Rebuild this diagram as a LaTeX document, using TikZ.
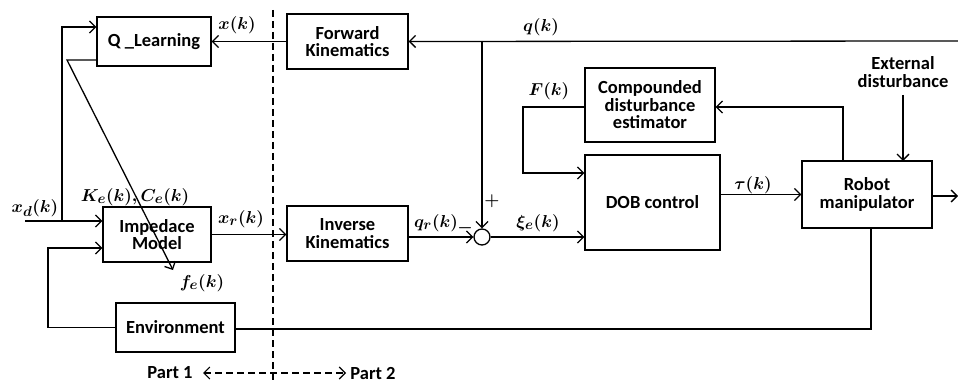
\documentclass[tikz,border=0pt]{standalone}
\usepackage{amsmath}
\usepackage{fontspec}
\setmainfont{Carlito}
\usetikzlibrary{arrows.meta,calc}
\begin{document}
\begin{tikzpicture}[x=1pt,y=-1pt,
  font=\fontsize{18.5}{17.5}\selectfont\bfseries\boldmath,
  line width=1.3pt,
  blk/.style={draw,rectangle,align=center,inner sep=0pt},
  lbl/.style={inner sep=0pt,font=\fontsize{19}{19}\selectfont\bfseries\boldmath},
  arr/.style={-{Straight Barb[length=6pt,width=12pt,line width=1.3pt]}},
  dsh/.style={dash pattern=on 7pt off 4pt, line width=1.1pt}]
\useasboundingbox (0,0) rectangle (958,382);
% blocks
\node[blk,minimum width=114pt,minimum height=49pt] (q) at (154,41.5) {Q \_Learning};
\node[blk,minimum width=121pt,minimum height=55pt] (fk) at (347.5,41.5) {Forward\\Kinematics};
\node[blk,minimum width=130pt,minimum height=74pt] (cde) at (650,105) {Compounded\\disturbance\\estimator};
\node[blk,minimum width=135pt,minimum height=95pt] (dob) at (652.5,202.5) {DOB control};
\node[blk,minimum width=130pt,minimum height=67pt] (rob) at (867,194.5) {Robot\\manipulator};
\node[blk,minimum width=119pt,minimum height=49pt] (env) at (175.5,327.5) {Environment};
\node[blk,minimum width=108pt,minimum height=55pt] (imp) at (157,234.5) {Impedace\\Model};
\node[blk,minimum width=121pt,minimum height=55pt] (ik) at (347.5,233.5) {Inverse\\Kinematics};
\node[draw,circle,minimum size=16pt,inner sep=0pt] (sum) at (482,237) {};
\node[inner sep=0pt,align=center] (ext) at (903,72) {External\\disturbance};
% coordinates
\coordinate (qin) at (958,41);
\coordinate (qj) at (482,41);
\coordinate (yout) at (958,196);
\coordinate (xdin) at (25,221);
\coordinate (xdj) at (62,221);
\coordinate (qlc) at (67,60);
\coordinate (fetip) at (173,270);
\coordinate (fl) at (523,107);
\coordinate (rj) at (843,107);
\coordinate (rb) at (871,329);
\coordinate (el) at (48,248);
% connectors
\draw[arr] (qin) -- (fk.east);
\draw[arr] (fk.west) -- (q.east |- fk.west);
\draw[arr] (qj) -- (sum.north);
\draw[arr] (ik.east |- sum.west) -- (sum.west);
\draw[arr] (imp.east) -- (imp.east -| ik.west);
\draw[arr] (sum.east) -- (sum.east -| dob.west);
\draw[arr] (dob.east |- rob.west) -- (rob.west);
\draw[arr] (rob.east |- yout) -- (yout);
\draw[arr] (903,95) -- (903,161);
\draw[arr] (rob.north -| rj) -- (rj) -- (rj -| cde.east);
\draw[arr] (fl -| cde.west) -- (fl) -- ++(0,66) -- ($(dob.west |- fl)+(0,66)$);
\draw (rob.south -| rb) -- (rb) -- (rb -| env.east);
\draw[arr] (env.west) -- (env.west -| el) -- (el) -- (el -| imp.west);
\draw[arr] (xdin) -- (xdin -| imp.west);
\draw[arr] (xdj) -- (62,27) -- (q.west |- 0,27);
\draw[arr] (qlc -| q.west) -- (qlc) -- (fetip);
% dashed separator
\draw[dsh] (273,10) -- (273,382);
\draw[dsh,{Straight Barb[length=6pt,width=12pt,line width=1.1pt]}-{Straight Barb[length=6pt,width=12pt,line width=1.1pt]}] (203,373) -- (346,373);
% labels
\node[lbl] (lx) at (237,25) {$x(k)$};
\node[lbl] (lq) at (541,27) {$q(k)$};
\node[lbl] (lF) at (549,91) {$F(k)$};
\node[lbl] (lt) at (753,185) {$\tau(k)$};
\node[lbl] (lkc) at (135,197) {$K_e(k),C_e(k)$};
\node[lbl] (lxd) at (35,208) {$x_d(k)$};
\node[lbl] (lxr) at (241,219) {$x_r(k)$};
\node[lbl] (lfe) at (202,283) {$f_e(k)$};
\node[lbl] (lqr) at (436,223) {$q_r(k)$};
\node[lbl] (lmin) at (465,228) {$-$};
\node[lbl] (lplus) at (492,201) {$+$};
\node[lbl] (lxi) at (538,223) {$\xi_e(k)$};
\node[inner sep=0pt] (p1) at (170,373) {Part 1};
\node[inner sep=0pt] (p2) at (373,373) {Part 2};
\end{tikzpicture}
\end{document}
